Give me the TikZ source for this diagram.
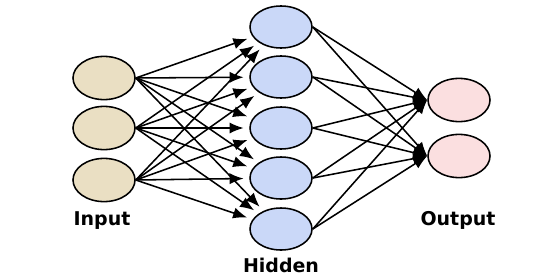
\documentclass[tikz,border=0pt]{standalone}
\usepackage{fontspec}
\setsansfont{DejaVu Sans}
\usetikzlibrary{shapes.geometric,arrows.meta}
\definecolor{inputfill}{RGB}{234,223,195}
\definecolor{hiddenfill}{RGB}{202,216,248}
\definecolor{outputfill}{RGB}{251,223,224}
\begin{document}
\begin{tikzpicture}[
    x=0.025cm, y=-0.025cm,
    neuron/.style={ellipse, draw=black, line width=1.1pt, inner sep=0pt, minimum width=1.55cm, minimum height=1.08cm},
    layer/.style={anchor=base, inner sep=0pt, font=\sffamily\bfseries\fontsize{13.5}{15}\selectfont},
    arrow/.style={-{Latex[length=10pt,width=8pt]}, line width=1.1pt}
]
\useasboundingbox (0,0) rectangle (550,277);

% Input layer
\node[neuron, fill=inputfill] (in1) at (104,78) {};
\node[neuron, fill=inputfill] (in2) at (104,128) {};
\node[neuron, fill=inputfill] (in3) at (104,180) {};

% Hidden layer
\node[neuron, fill=hiddenfill, minimum height=1.05cm] (hid1) at (281,27) {};
\node[neuron, fill=hiddenfill, minimum height=1.05cm] (hid2) at (281,77) {};
\node[neuron, fill=hiddenfill, minimum height=1.05cm] (hid3) at (281,128) {};
\node[neuron, fill=hiddenfill, minimum height=1.05cm] (hid4) at (281,178) {};
\node[neuron, fill=hiddenfill, minimum height=1.05cm] (hid5) at (281,229) {};

% Output layer
\node[neuron, fill=outputfill] (out1) at (459,100) {};
\node[neuron, fill=outputfill] (out2) at (459,156) {};

% Arrows
\foreach \i in {1,2,3}
  \foreach \h in {1,...,5}
    \draw[arrow, shorten >=4pt] (in\i.east) -- (hid\h);
\foreach \h in {1,...,5}
  \foreach \o in {1,2}
    \draw[arrow] (hid\h.east) -- (out\o.west);

% Layer labels
\node[layer] (lblin) at (102,225) {Input};
\node[layer] (lblhid) at (281,272) {Hidden};
\node[layer] (lblout) at (458,225) {Output};

\end{tikzpicture}
\end{document}
